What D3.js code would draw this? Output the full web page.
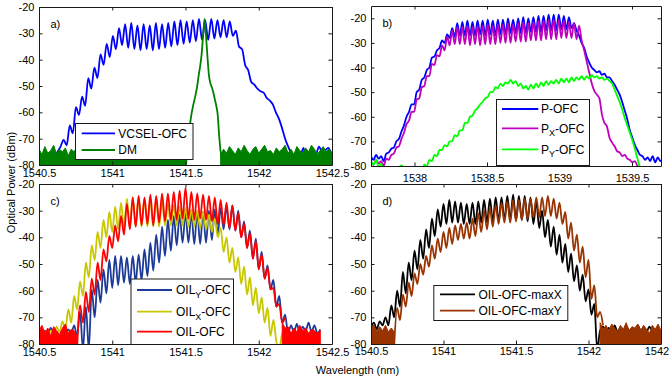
<!DOCTYPE html>
<html>
<head>
<meta charset="utf-8">
<title>Optical frequency comb spectra</title>
<script src="https://cdn.jsdelivr.net/npm/d3@7"></script>
<style>
  html, body { margin: 0; padding: 0; background: #fff; }
  svg { display: block; }
  text { font-family: "Liberation Sans", Arial, Helvetica, sans-serif; }
</style>
</head>
<body>
<svg id="fig" width="669" height="379"></svg>
<script>
// ---------- axis ticks ----------
const wavelengthTicks = [1540.5, 1541, 1541.5, 1542, 1542.5];
const wavelengthTicksB = [1538, 1538.5, 1539, 1539.5];
const powerTicks = [-80, -70, -60, -50, -40, -30, -20];

// Each trace is sampled on a uniform wavelength grid: [first wavelength (nm), step (nm)]
// ---------- a) VCSEL comb and directly modulated laser ----------
const vcselGrid = [1540.5, 0.021];
const vcselOFC = [-76,-78,-76,-77,-75,-77,-75,-73,
  -70.5,-72.5,-65,-68,-58,-61,-54,-57.5,-47,-51,-43,-47,-38,-42,-34,-39,-31,-36,-28,-34.5,
  -26.5,-35.5,-26,-36,-27,-36.5,-26.5,-36,-27,-36.5,-26,-36,-26.5,-35.5,-26,-35,-25.5,-34.5,
  -25,-34,-25.5,-33.5,-25,-33,-24.5,-32.5,-25,-32.5,-24.5,-32,-25,-31.5,-25,-31.5,-25.5,-31,
  -29,-35,-36,-42,-44,-48.5,-49.5,-51,-52,-52.5,-54.5,-55.5,-57,-60,-62.5,-66,-70,-73,-75.5,-76.5,
  -74.5,-76,-73.5,-80,-75.5,-74,-76,-73,-75,-74.5,-73.5,-75.5];
const dmFloorLGrid = [1540.5, 0.02];
const dmFloorL = [-74,-76,-73,-75.5,-74.5,-72.5,-76,-74,-75,-73.5,-76.5,-74,-75,-73,-75.5,-74,-76,
  -74.5,-73.5,-75.5,-74,-76,-73,-75,-74.5,-76,-74,-75.5,-73.5,-75,-74,-76.5,-74.5,-75,-73,-75.5,
  -74,-76,-74.5,-75,-73.5,-76,-74.5,-75,-74,-76,-73.5,-75.5,-74.5,-76,-78];
const dmPeakGrid = [1541.5, 0.01];
const dmPeak = [-82,-76,-70,-65,-61,-58,-55.5,-53,-50,-46,-42.5,-38,-31,-24.5,-31,-39,-46,-49,
  -50.5,-52.5,-55,-57.5,-61,-69,-75,-78];
const dmFloorRGrid = [1541.74, 0.02];
const dmFloorR = [-76,-74,-75.5,-73,-74.5,-76,-73.5,-75,-72.5,-74.5,-76,-74,-73,-75.5,-74,-72.5,
  -75,-74.5,-76,-73.5,-75,-74,-72.5,-75.5,-74,-76,-73,-74.5,-75.5,-73.5,-75,-72.5,-74,-76,-74.5,
  -73,-75,-74,-75.5];

// ---------- b) polarisation-resolved comb ----------
const combBGrid = [1537.7, 0.0175];
const pOFC = [-76,-77.5,-75.5,-77,-76,-78,-75,-74.5,-73,-72.5,-70,-69,-66,-63.5,-60,-58,-55,-55,
  -50,-49,-45,-44,-41,-40,-36,-35.5,-33,-32,-29,-30,-26.5,-28,-24,-27.5,-22,-27,
  -21.5,-27,-21,-27,-21.5,-27,-21,-26.5,-21,-27,-20.5,-26.5,-21,-27,-20.5,-26.5,-20.5,-26.5,
  -20,-26,-20.5,-26,-20,-26,-19.5,-26,-20,-25.5,-19.5,-25.5,-19,-25.5,-19,-25,-18.5,-25,-18.5,-25,
  -18.5,-24.5,-19,-24.5,-19.5,-24,
  -22,-25,-27,-30,-32,-35.5,-38,-40,-41,-42,-41.5,-43,-42.5,-44,-44,-45.5,-47,-49,-51,-54,-57.5,
  -61,-65.5,-68.5,-71.5,-73.5,-75.5,-76,-77.5,-76.5,-78,-76,-78.5,-76.5,-78,-77];
const pxOFC = [-78,-79.5,-77.5,-79,-78,-80,-77,-77.5,-75.5,-75,-72.5,-72,-69,-66.5,-63,-61.5,-58,-58,
  -53,-52.5,-48,-47.5,-43.5,-43.5,-38.5,-39,-35,-35.5,-31,-33,-27.5,-31,-25,-30.5,-23.5,-30.5,
  -23.5,-30.5,-23,-31,-23.5,-30.5,-23,-31,-23,-30.5,-22.5,-30.5,-23,-30.5,-22.5,-30,-22.5,-30,
  -22,-30,-22.5,-29.5,-22,-29.5,-21.5,-29.5,-22,-29,-21.5,-29,-21,-29,-21,-28.5,-20.5,-28.5,
  -20.5,-28.5,-20.5,-28,-21,-28,-21.5,-28,-22,-28.5,-23,-29,
  -33,-37.5,-42,-46.5,-49.5,-51,-52.5,-59,-62.5,-64,-68.5,-70.5,-72,-74,-74.5,-76,-75.5,-77,-77.5,
  -78.5,-78,-80,-81,-80.5,-82,-81.5,-83,-82,-83,-82,-83,-82];
const pyOFC = [-78,-79.5,-77.5,-80.5,-79,-82,-83,-84,-83,-82,-81,-80.5,-79.8,-81,-83,-84,-83,-84,-83,-82.5,
  -82,-79.5,-80,-77.5,-78,-75.5,-76,-73.5,-73.5,-71.5,-72,-70,-70,-67.5,-68,-65.5,-65.5,-62.5,-62.5,
  -60,-59.5,-57.5,-56.5,-55,-54,-52.5,-52,-50,-50,-48,-48.5,-46.5,-47.5,-46,-46.5,-45,-46.5,-45.5,
  -47.5,-46.5,-48.5,-47.5,-49,-47,-48.5,-46.5,-48,-46,-47.5,-45.5,-47,-45.5,-46.5,-45,-46.5,-44.5,
  -46,-44.5,-46,-44,-45.5,-44,-45,-43.5,-45,-43.5,-44.5,-43,-44,-43.5,-44.5,-44,-45,-44.5,-45.5,
  -46.5,-49,-51.5,-54,-57,-60.5,-63.5,-66.5,-69.5,-73,-77,-80.5,-82,-83,-83,-83,-83,-83,-83,-83,-83];

// ---------- c) optically injection-locked comb ----------
const oilGrid = [1540.5, 0.02];
const oilYOFC = [-76,-77.5,-75,-76.5,-74,-76,-75.5,-77,-75,-76.5,
  -74.5,-76,-73,-77,-68,-82,-66,-82,-59.5,-70,
  -56,-64.5,-52,-61,-48.5,-59,-47,-58,-47,-57,
  -47.5,-57.5,-47,-57,-46.5,-56,-44.5,-54.5,-42,-52.5,
  -39,-49.5,-36,-47,-33.5,-45,-32,-43,-31.5,-42,
  -31,-42,-31,-42.5,-30.5,-42.5,-30.5,-42,-30,-41,
  -29.5,-39,-29,-37,-28.5,-37,-28,-37.5,-30,-40,
  -34,-44,-37.5,-48,-40.5,-52,-45.5,-55.5,-50.5,-59.5,
  -56,-66,-62,-72,-69,-76,-73,-75.5,-72.5,-76,
  -73.5,-75,-72,-75.5,-73,-76,-74.5];
const oilXOFC = [-76,-77,-75.5,-77,-75,-76,-73.5,-75.5,-71.5,-74.5,-67,-72,-62,-67,-56.5,-62,
  -49.5,-55,-43,-48.5,-38,-44,-33.5,-40,-30.5,-38,-28.5,-37,-27,-36.5,
  -25.5,-36,-25,-36,-25,-36,-25.5,-36,-26,-36,-26,-36,-26.5,-35.5,-27.5,-35.5,-28,-35.5,-28.5,-35.5,
  -29,-36,-29.5,-36,-30,-36.5,-30.5,-37,-31.5,-38,
  -33,-40,-36.5,-45.5,-40,-49.5,-44,-53,-47.5,-57.5,-51,-61.5,-55,-65.5,-59,-68.5,-62.5,-72,
  -66.5,-77,-71,-79,
  -82,-76,-78,-76.5,-78,-77,-79,-76.5,-78,-77.5,-79,-76,-78.5,-77,-79];
const oilSignalGrid = [1540.76, 0.02];
const oilOFC = [-82,-65.5,-72,-60.5,-68,-55.5,-61.5,-49.5,-56,-44.5,
  -49,-39.5,-44,-35.5,-41.5,-32,-39,-27.5,-37,-25,
  -36,-24.5,-35.5,-25,-35,-24,-35.5,-24.5,-34.5,-23.5,
  -34,-23.5,-33.5,-23,-33.5,-22.5,-33,-21.5,-33,-23,
  -33.5,-23.5,-33,-24,-33.5,-24.5,-34,-25,-35,-26,
  -35.5,-27,-36.5,-28,-37.5,-31,-40,-35,-44,-38.5,
  -48,-41.5,-52,-46.5,-55.5,-51.5,-59.5,-59,-66,-65,
  -72,-70];
const oilFloorLGrid = [1540.5, 0.02];
const oilFloorL = [-75,-73,-76,-74,-77,-73.5,-75,-76.5,-74,-72.5,-76,-74.5,-75,-77];
const oilFloorRGrid = [1542.16, 0.02];
const oilFloorR = [-72,-74,-73.5,-76,-74,-75.5,-73,-75,-74,-76,-74.5,-75,-76,-75];

// ---------- d) injection-locked comb, maximised per polarisation ----------
const maxXGrid = [1540.5, 0.02];
const oilMaxX = [-74,-72,-74.5,-71.5,-73,
  -70,-73,-65.5,-70,-60,-66,-53,-61,-49.5,-56,-45,-52,-41,-48,-37,-44,-33,-39.5,-29.5,-36,
  -27.5,-35,-26,-34.5,-26.5,-34.5,-27,-35,-27.5,-35,-27,-35,-26.5,-34.5,-26,-34.5,-25.5,-34,
  -25,-34,-25,-33.5,-24.5,-33.5,-24,-33.5,-24.5,-33.5,-24.5,-34,-25,-35,
  -26.5,-36.5,-30,-40,-33.5,-43.5,-36,-46.5,-39,-49.5,-42.5,-53,-46,-56.5,-50.5,-60,-54,-64,
  -59.5,-69,-65,-82,
  -75,-73.5,-75,-74,-76,-73,-75.5,-74,-76,-73.5,-75,-74.5,-76,-73,-75,-74,-75.5,-73.5,-75,-74.5,-76,-75];
const maxYGrid = [1540.66, 0.02];
const oilMaxY = [-80.5,-66.5,-71,-61.5,-66,-57,-62,-53.5,-57.5,-50,-54,-47,-51,-43,-48,-40.5,-45.5,-38,-44,-36.5,
  -42.5,-35.5,-41,-35,-40.5,-34.5,-40.5,-33,-39.5,-31,-38,-30,-37,-29,-36,-28,-35,-27,-34.5,-26.5,
  -34.5,-26,-34,-26,-33.5,-25.5,-33,-25.5,-32.5,-25,-32.5,-25,-32,-24.5,-32,-25.5,-33,-27,-35,-30.5,
  -40.5,-34.5,-45,-39,-49.5,-43.5,-55,-48.5,-63,-58,-70,-68,-73];
const maxYFloorLGrid = [1540.5, 0.02];
const maxYFloorL = [-74,-73,-75.5,-73.5,-75,-73,-75.5,-74,-75.5];
const maxYFloorRGrid = [1542.08, 0.02];
const maxYFloorR = [-72,-74.5,-73,-75,-72.5,-74,-75.5,-73,-74.5,-72,-75,-73.5,-74,-72.5,-75,-73,
  -74.5,-76,-73,-74.5,-72.5,-75];

// ---------- legend labels ("_" marks a one-letter subscript) ----------
const legendA = ['VCSEL-OFC', 'DM'];
const legendB = ['P-OFC', 'P_X-OFC', 'P_Y-OFC'];
const legendC = ['OIL_Y-OFC', 'OIL_X-OFC', 'OIL-OFC'];
const legendD = ['OIL-OFC-maxX', 'OIL-OFC-maxY'];

// ---------- drawing ----------
const FONT = '"Liberation Sans", Arial, Helvetica, sans-serif';
const AXIS = '#1a1a1a';
const svg = d3.select('#fig');

function makePanel(id, cfg) {
  const x = d3.scaleLinear().domain(cfg.xDomain).range([cfg.left, cfg.right]);
  const y = d3.scaleLinear().domain(cfg.yDomain).range([cfg.bottom, cfg.top]);
  svg.append('clipPath').attr('id', 'clip-' + id).append('rect')
    .attr('x', cfg.left).attr('y', cfg.top)
    .attr('width', cfg.right - cfg.left).attr('height', cfg.bottom - cfg.top);
  const plot = svg.append('g').attr('clip-path', `url(#clip-${id})`);
  return { id, x, y, plot, cfg };
}

function samples(grid, vals) {
  return vals.map((v, i) => [grid[0] + grid[1] * i, v]);
}

function trace(p, grid, vals, color) {
  p.plot.append('path').datum(samples(grid, vals))
    .attr('fill', 'none').attr('stroke', color).attr('stroke-width', 1.8)
    .attr('stroke-linejoin', 'round')
    .attr('d', d3.line().x(d => p.x(d[0])).y(d => p.y(d[1])).curve(d3.curveMonotoneX));
}

// noise floor: the trace flickers below the display floor, so it reads as a solid band
function noiseFloor(p, grid, vals, color) {
  const base = p.y.range()[0] + 2;
  p.plot.append('path').datum(samples(grid, vals))
    .attr('fill', color).attr('stroke', color).attr('stroke-width', 1)
    .attr('stroke-linejoin', 'round')
    .attr('d', d3.area().x(d => p.x(d[0])).y0(base).y1(d => p.y(d[1])));
}

function axes(p) {
  const { x, y, cfg } = p;
  const tick = 3.5;
  const style = g => g.attr('font-family', FONT).attr('font-size', 11).attr('color', AXIS);
  svg.append('g').attr('transform', `translate(0,${cfg.bottom})`)
    .call(d3.axisBottom(x).tickValues(cfg.xTicks).tickFormat(d => String(d))
      .tickSizeInner(-tick).tickSizeOuter(0).tickPadding(cfg.xPad))
    .call(style).selectAll('text').attr('fill', '#000');
  svg.append('g').attr('transform', `translate(0,${cfg.top})`)
    .call(d3.axisTop(x).tickValues(cfg.xTicks).tickFormat('')
      .tickSizeInner(-tick).tickSizeOuter(0))
    .call(style);
  svg.append('g').attr('transform', `translate(${cfg.left},0)`)
    .call(d3.axisLeft(y).tickValues(powerTicks).tickFormat(d => String(d))
      .tickSizeInner(-tick).tickSizeOuter(0).tickPadding(4.5))
    .call(style).selectAll('text').attr('fill', '#000');
  svg.append('g').attr('transform', `translate(${cfg.right},0)`)
    .call(d3.axisRight(y).tickValues(powerTicks).tickFormat('')
      .tickSizeInner(-tick).tickSizeOuter(0))
    .call(style);
  svg.append('text').attr('x', cfg.left + 11.5).attr('y', cfg.top + 20.5)
    .attr('font-size', 11).attr('fill', '#000').text(cfg.tag);
}

function legend(box, labels, colors) {
  const g = svg.append('g');
  g.append('rect').attr('x', box.x + 0.5).attr('y', box.y + 0.5)
    .attr('width', box.w).attr('height', box.h)
    .attr('fill', '#fff').attr('stroke', AXIS).attr('stroke-width', 1);
  labels.forEach((label, i) => {
    const ly = box.rows[i];
    g.append('line').attr('x1', box.lineX[0]).attr('x2', box.lineX[1])
      .attr('y1', ly).attr('y2', ly)
      .attr('stroke', colors[i]).attr('stroke-width', 1.8);
    const t = g.append('text').attr('x', box.textX).attr('y', ly + 4.3)
      .attr('font-size', 12).attr('fill', '#000');
    const parts = label.split(/_(\w)/);
    parts.forEach((part, k) => {
      if (k % 2 === 1) {
        t.append('tspan').attr('font-size', 9).attr('dy', 3.5).text(part);
      } else if (part) {
        t.append('tspan').attr('dy', k > 0 ? -3.5 : 0).text(part);
      }
    });
  });
}

// ---------- a) ----------
const pa = makePanel('a', { left: 39, top: 7, right: 332, bottom: 165,
  xDomain: [1540.5, 1542.5], yDomain: [-80, -20], xTicks: wavelengthTicks, xPad: 4, tag: 'a)' });
trace(pa, vcselGrid, vcselOFC, '#0000ff');
noiseFloor(pa, dmFloorLGrid, dmFloorL, '#008000');
noiseFloor(pa, dmFloorRGrid, dmFloorR, '#008000');
trace(pa, dmPeakGrid, dmPeak, '#008000');
axes(pa);
legend({ x: 75, y: 123, w: 117.5, h: 36, rows: [133.3, 150], lineX: [81.7, 115], textX: 118.3 },
  legendA, ['#0000ff', '#008000']);

// ---------- b) ----------
const pb = makePanel('b', { left: 371, top: 6, right: 661, bottom: 166,
  xDomain: [1537.7, 1539.7], yDomain: [-80, -15], xTicks: wavelengthTicksB, xPad: 7.7, tag: 'b)' });
trace(pb, combBGrid, pOFC, '#0000ff');
trace(pb, combBGrid, pxOFC, '#bf00bf');
trace(pb, combBGrid, pyOFC, '#00ff00');
axes(pb);
legend({ x: 496, y: 99, w: 93, h: 66, rows: [109, 128.3, 149.3], lineX: [502, 538.3], textX: 541 },
  legendB, ['#0000ff', '#bf00bf', '#00ff00']);

// ---------- c) ----------
const pc = makePanel('c', { left: 39, top: 184, right: 332, bottom: 344,
  xDomain: [1540.5, 1542.5], yDomain: [-80, -20], xTicks: wavelengthTicks, xPad: 4.5, tag: 'c)' });
trace(pc, oilGrid, oilYOFC, '#1d3a99');
trace(pc, oilGrid, oilXOFC, '#c8c800');
noiseFloor(pc, oilFloorLGrid, oilFloorL, '#ff0000');
noiseFloor(pc, oilFloorRGrid, oilFloorR, '#ff0000');
trace(pc, oilSignalGrid, oilOFC, '#ff0000');
axes(pc);
legend({ x: 130.5, y: 278.5, w: 102.5, h: 65.5, rows: [290, 311.7, 331.7], lineX: [137, 172], textX: 176 },
  legendC, ['#1d3a99', '#c8c800', '#ff0000']);

// ---------- d) ----------
const pd = makePanel('d', { left: 371, top: 184, right: 661, bottom: 344,
  xDomain: [1540.5, 1542.5], yDomain: [-80, -20], xTicks: wavelengthTicks, xPad: 3.5, tag: 'd)' });
trace(pd, maxXGrid, oilMaxX, '#000000');
noiseFloor(pd, maxYFloorLGrid, maxYFloorL, '#993300');
noiseFloor(pd, maxYFloorRGrid, maxYFloorR, '#993300');
trace(pd, maxYGrid, oilMaxY, '#993300');
axes(pd);
legend({ x: 433.3, y: 285, w: 134, h: 35, rows: [294.3, 310.7], lineX: [440, 475], textX: 478.5 },
  legendD, ['#000000', '#993300']);

// ---------- shared axis titles ----------
svg.append('text').attr('transform', 'translate(15,182.5) rotate(-90)')
  .attr('text-anchor', 'middle').attr('font-size', 11).attr('fill', '#000')
  .text('Optical Power (dBm)');
svg.append('text').attr('x', 357.5).attr('y', 374)
  .attr('text-anchor', 'middle').attr('font-size', 11).attr('fill', '#000')
  .text('Wavelength (nm)');
</script>
</body>
</html>
